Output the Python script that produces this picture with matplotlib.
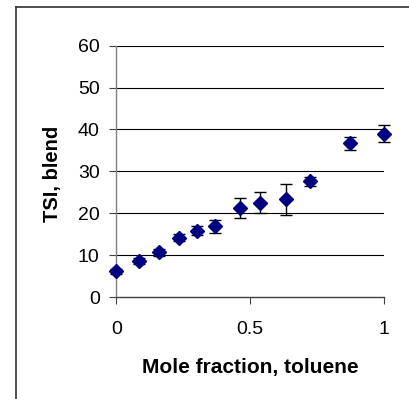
import numpy as np
import matplotlib
matplotlib.use("Agg")
from matplotlib import pyplot as plt
from matplotlib.lines import Line2D

plt.rcParams['font.family'] = ['Liberation Sans', 'DejaVu Sans']

# Blend TSI vs toluene mole fraction, with measurement uncertainty
mole_fraction = [0.0, 0.086, 0.161, 0.235, 0.303, 0.370, 0.462, 0.536, 0.634, 0.722, 0.874, 1.0]
tsi_blend = [6.2, 8.7, 10.7, 14.2, 15.8, 16.9, 21.2, 22.5, 23.3, 27.6, 36.7, 39.0]
tsi_err = [0.6, 0.7, 0.8, 0.8, 1.1, 1.6, 2.4, 2.5, 3.7, 1.0, 1.6, 2.1]

yticks = [0, 10, 20, 30, 40, 50, 60]
xticks = [0, 0.5, 1]
xticklabels = ["0", "0.5", "1"]

fig = plt.figure(figsize=(4.10, 3.99), dpi=100)
ax = fig.add_axes([0.2837, 0.2556, 0.6529, 0.6299])

ax.errorbar(mole_fraction, tsi_blend, yerr=tsi_err, fmt='D', color='#000080',
            markersize=7, ecolor='black', elinewidth=1.0, capsize=4.5,
            capthick=1.0, clip_on=False, zorder=3)

ax.set_xlim(0, 1)
ax.set_ylim(0, 60)
ax.set_xticks(xticks)
ax.set_xticklabels(xticklabels)
ax.set_yticks(yticks)

for y in yticks[1:]:
    ax.axhline(y, color='black', lw=0.8, zorder=1)

for side in ['top', 'right']:
    ax.spines[side].set_visible(False)
ax.spines['left'].set_color('#808080')
ax.spines['bottom'].set_color('#404040')
ax.spines['left'].set_linewidth(1.0)
ax.spines['bottom'].set_linewidth(1.0)

ax.tick_params(axis='y', direction='out', length=5, width=0.8, color='#404040',
               labelsize=14, pad=7)
ax.tick_params(axis='x', direction='out', length=5, width=0.8, color='#404040',
               labelsize=14, pad=12)

ax.set_xlabel("Mole fraction, toluene", fontsize=15, fontweight='bold', va='center')
ax.xaxis.set_label_coords(0.5, -0.279)
ax.set_ylabel("TSI, blend", fontsize=14.5, fontweight='bold', va='center')
ax.yaxis.set_label_coords(-0.240, 0.49)

# outer chart-area frame, running off the right and bottom edges
fig.add_artist(Line2D([0.039, 0.039], [0.0, 0.9825], color='#303030', lw=1.2))
fig.add_artist(Line2D([0.039, 1.0], [0.9825, 0.9825], color='#303030', lw=1.2))

fig.savefig("out.png", dpi=100)
